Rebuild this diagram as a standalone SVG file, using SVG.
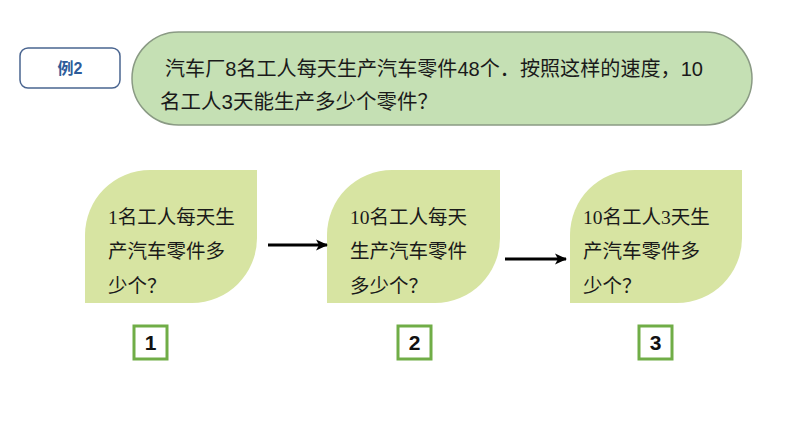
<svg xmlns="http://www.w3.org/2000/svg" width="794" height="447" viewBox="0 0 794 447">
<style>
.leaf{fill:#D7E4A2;}
.lt{font-family:"Liberation Serif","Noto Sans CJK SC",serif;font-size:19.5px;fill:#1a1a1a;}
.qt{font-family:"Liberation Sans","Noto Sans CJK SC",sans-serif;font-size:20.5px;fill:#1a1a1a;}
.num{fill:#fff;stroke:#70AD47;stroke-width:3;}
.nt{font-family:"Liberation Sans","Noto Sans CJK SC",sans-serif;font-size:21px;font-weight:bold;fill:#111;text-anchor:middle;}
.conn{stroke:#000;stroke-width:2.8;fill:none;}
</style>
<defs>
<marker id="ah" markerWidth="12" markerHeight="12" refX="11" refY="6" orient="auto" markerUnits="userSpaceOnUse">
<path d="M0,0.5 L12,6 L0,11.5 L3,6 Z" fill="#000"/>
</marker>
</defs>
<rect width="794" height="447" fill="#fff"/>
<g id="example">
<rect x="20" y="48" width="100" height="40" rx="8" fill="#fff" stroke="#4A6590" stroke-width="1.5"/>
<text x="70" y="74" font-family="'Liberation Sans','Noto Sans CJK SC',sans-serif" font-size="16" font-weight="bold" fill="#2E5C9A" text-anchor="middle">例2</text>
</g>
<g id="question">
<rect x="132" y="32" width="620" height="93" rx="46.5" fill="#C5E0B4" stroke="#8A9A84" stroke-width="1.5"/>
<text class="qt" x="165" y="76" textLength="538" lengthAdjust="spacingAndGlyphs">汽车厂8名工人每天生产汽车零件48个．按照这样的速度，10</text>
<text class="qt" x="160" y="109">名工人3天能生产多少个零件？</text>
</g>
<g id="leaf1">
<path class="leaf" d="M85,303 L85,235 A65,65 0 0 1 150,170 L257,170 L257,238 A65,65 0 0 1 192,303 Z"/>
<text class="lt" x="108" y="224">1名工人每天生</text>
<text class="lt" x="108" y="258">产汽车零件多</text>
<text class="lt" x="108" y="293">少个？</text>
</g>
<g id="leaf2">
<path class="leaf" d="M327,303 L327,235 A65,65 0 0 1 392,170 L500,170 L500,238 A65,65 0 0 1 435,303 Z"/>
<text class="lt" x="350" y="224">10名工人每天</text>
<text class="lt" x="350" y="258">生产汽车零件</text>
<text class="lt" x="350" y="293">多少个？</text>
</g>
<g id="leaf3">
<path class="leaf" d="M570,303 L570,235 A65,65 0 0 1 635,170 L742,170 L742,238 A65,65 0 0 1 677,303 Z"/>
<text class="lt" x="583" y="224">10名工人3天生</text>
<text class="lt" x="583" y="258">产汽车零件多</text>
<text class="lt" x="583" y="293">少个？</text>
</g>
<g id="label1">
<rect class="num" x="134" y="326" width="33" height="33"/>
<text class="nt" x="150.5" y="350">1</text>
</g>
<g id="label2">
<rect class="num" x="398" y="326" width="33" height="33"/>
<text class="nt" x="414.5" y="350">2</text>
</g>
<g id="label3">
<rect class="num" x="639" y="326" width="33" height="33"/>
<text class="nt" x="655.5" y="350">3</text>
</g>
<g id="connectors">
<line class="conn" x1="268" y1="245" x2="327" y2="245" marker-end="url(#ah)"/>
<line class="conn" x1="505" y1="259" x2="566" y2="259" marker-end="url(#ah)"/>
</g>
</svg>
